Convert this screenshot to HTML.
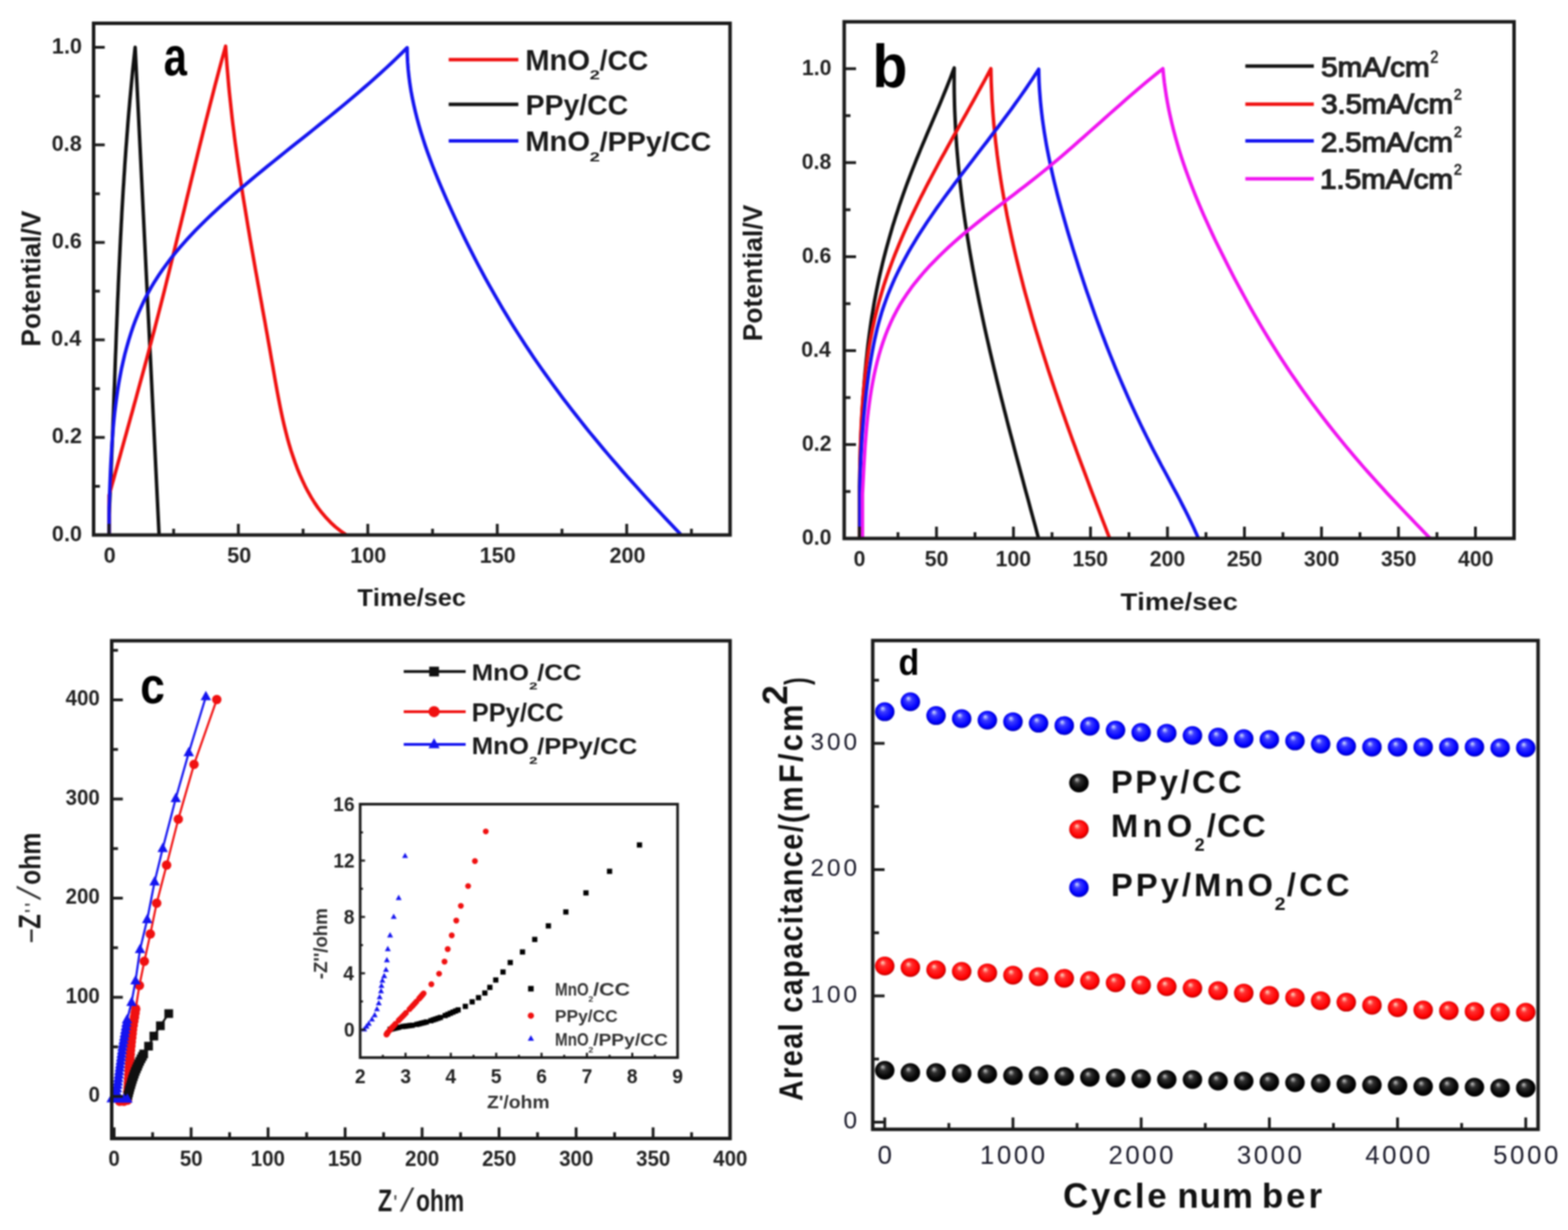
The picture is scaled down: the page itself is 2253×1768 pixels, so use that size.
<!DOCTYPE html>
<html><head><meta charset="utf-8"><title>Figure</title>
<style>
html,body{margin:0;padding:0;background:#fff;}
svg{display:block;filter:blur(0.8px);}
text{font-family:"Liberation Sans",Arial,sans-serif;font-kerning:none;}
</style></head><body>
<svg xmlns="http://www.w3.org/2000/svg" width="2253" height="1768" viewBox="0 0 2253 1768">
<defs>
<radialGradient id="gB" cx="0.5" cy="0.5" r="0.55" fx="0.38" fy="0.3">
<stop offset="0" stop-color="#d8e4ff"/><stop offset="0.3" stop-color="#3c3cff"/><stop offset="0.75" stop-color="#0000ff"/><stop offset="1" stop-color="#00009a"/></radialGradient>
<radialGradient id="gR" cx="0.5" cy="0.5" r="0.55" fx="0.38" fy="0.3">
<stop offset="0" stop-color="#ffe0c8"/><stop offset="0.3" stop-color="#ff3030"/><stop offset="0.75" stop-color="#ff0000"/><stop offset="1" stop-color="#a00000"/></radialGradient>
<radialGradient id="gK" cx="0.5" cy="0.5" r="0.55" fx="0.38" fy="0.3">
<stop offset="0" stop-color="#c8c8c8"/><stop offset="0.3" stop-color="#303030"/><stop offset="0.7" stop-color="#050505"/><stop offset="1" stop-color="#000"/></radialGradient>
</defs>
<rect width="100%" height="100%" fill="#fff"/>
<path d="M156.8,769.0 L156.8,740.0 L157.2,731.5 L157.6,723.0 L158.0,714.5 L158.4,706.0 L158.8,697.4 L159.1,688.9 L159.5,680.4 L159.8,671.9 L160.2,663.4 L160.5,654.9 L160.9,646.4 L161.2,637.8 L161.6,629.3 L161.9,620.8 L162.2,612.3 L162.5,603.8 L162.9,595.3 L163.2,586.7 L163.5,578.2 L163.8,569.7 L164.1,561.2 L164.5,552.7 L164.8,544.1 L165.1,535.6 L165.4,527.1 L165.7,518.6 L166.0,510.1 L166.4,501.6 L166.7,493.0 L167.0,484.5 L167.3,476.0 L167.7,467.5 L168.0,459.0 L168.4,450.4 L168.7,441.9 L169.0,433.4 L169.4,424.9 L169.8,416.4 L170.1,407.9 L170.5,399.3 L170.9,390.8 L171.3,382.3 L171.7,373.8 L172.1,365.3 L172.5,356.8 L172.9,348.3 L173.3,339.8 L173.8,331.2 L174.2,322.7 L174.7,314.2 L175.1,305.7 L175.6,297.2 L176.1,288.7 L176.6,280.2 L177.1,271.7 L177.7,263.2 L178.2,254.7 L178.8,246.2 L179.3,237.7 L179.9,229.2 L180.5,220.7 L181.1,212.2 L181.8,203.7 L182.4,195.2 L183.1,186.7 L183.7,178.2 L184.4,169.7 L185.1,161.2 L185.9,152.7 L186.6,144.2 L187.4,135.7 L188.2,127.3 L189.0,118.8 L189.8,110.3 L190.6,101.8 L191.5,93.3 L192.4,84.9 L193.3,76.4 L194.2,67.9 L228.6,769.0" fill="none" stroke="#101010" stroke-width="5.0" stroke-linejoin="round"/>
<path d="M156.8,769.0 L156.8,712.0 L159.0,703.9 L161.2,695.8 L163.5,687.7 L165.7,679.5 L168.0,671.4 L170.2,663.3 L172.5,655.2 L174.7,647.1 L177.0,638.9 L179.2,630.8 L181.5,622.7 L183.7,614.6 L186.0,606.4 L188.2,598.3 L190.5,590.2 L192.7,582.0 L195.0,573.9 L197.2,565.7 L199.4,557.6 L201.6,549.5 L203.9,541.3 L206.1,533.2 L208.3,525.0 L210.5,516.9 L212.7,508.7 L214.8,500.5 L217.0,492.4 L219.1,484.2 L221.3,476.0 L223.4,467.9 L225.5,459.7 L227.6,451.5 L229.7,443.3 L231.8,435.1 L233.9,426.9 L236.0,418.7 L238.0,410.5 L240.0,402.3 L242.1,394.1 L244.1,385.9 L246.1,377.7 L248.1,369.5 L250.1,361.3 L252.1,353.1 L254.1,344.9 L256.1,336.7 L258.1,328.5 L260.1,320.3 L262.1,312.0 L264.1,303.8 L266.1,295.6 L268.0,287.4 L270.0,279.2 L272.0,271.0 L274.0,262.7 L276.0,254.5 L278.0,246.3 L280.0,238.1 L282.0,229.9 L284.0,221.7 L286.0,213.5 L288.0,205.3 L290.1,197.1 L292.1,188.9 L294.2,180.7 L296.2,172.5 L298.3,164.3 L300.4,156.1 L302.5,147.9 L304.6,139.8 L306.7,131.6 L308.8,123.4 L311.0,115.2 L313.1,107.1 L315.3,98.9 L317.5,90.7 L319.7,82.6 L322.0,74.4 L324.2,66.3 L324.8,75.8 L325.5,85.2 L326.2,94.6 L327.0,104.0 L327.8,113.4 L328.6,122.7 L329.5,132.1 L330.5,141.4 L331.5,150.7 L332.5,160.0 L333.5,169.2 L334.6,178.5 L335.8,187.7 L336.9,197.0 L338.1,206.2 L339.4,215.4 L340.6,224.6 L341.9,233.8 L343.3,243.0 L344.6,252.1 L346.0,261.3 L347.4,270.5 L348.8,279.6 L350.3,288.8 L351.8,297.9 L353.3,307.0 L354.8,316.2 L356.3,325.3 L357.9,334.5 L359.4,343.6 L361.0,352.8 L362.6,361.9 L364.2,371.0 L365.8,380.2 L367.4,389.4 L369.1,398.5 L370.7,407.7 L372.4,416.9 L374.0,426.1 L375.7,435.3 L377.3,444.5 L379.0,453.7 L380.7,462.9 L382.3,472.2 L384.0,481.4 L385.6,490.7 L387.3,500.0 L388.9,509.3 L390.5,518.6 L392.2,528.0 L393.8,537.3 L395.4,546.7 L397.1,556.0 L398.8,565.4 L400.6,574.7 L402.4,584.0 L404.3,593.3 L406.3,602.5 L408.4,611.6 L410.7,620.8 L413.0,629.8 L415.5,638.8 L418.2,647.7 L421.1,656.4 L424.1,665.1 L427.3,673.7 L430.8,682.2 L434.5,690.5 L438.4,698.8 L442.6,706.8 L447.1,714.8 L451.9,722.5 L457.0,730.0 L462.6,737.2 L468.5,744.1 L474.9,750.8 L481.7,757.1 L489.1,763.0 L497.0,768.5" fill="none" stroke="#f01010" stroke-width="5.0" stroke-linejoin="round"/>
<path d="M156.8,769.0 L156.8,730.0 L157.2,719.7 L157.5,709.4 L157.9,699.0 L158.3,688.5 L158.7,678.0 L159.2,667.4 L159.8,656.8 L160.4,646.2 L161.1,635.5 L161.9,624.9 L162.7,614.2 L163.7,603.6 L164.8,593.0 L166.1,582.4 L167.5,571.8 L169.0,561.2 L170.7,550.7 L172.6,540.3 L174.6,529.9 L176.9,519.6 L179.3,509.4 L182.0,499.3 L184.9,489.2 L188.0,479.3 L191.3,469.4 L194.9,459.7 L198.8,450.1 L203.0,440.7 L207.4,431.4 L212.1,422.2 L217.1,413.2 L222.5,404.3 L228.1,395.6 L233.9,387.1 L240.1,378.6 L246.4,370.3 L253.0,362.2 L259.8,354.2 L266.7,346.3 L273.9,338.5 L281.2,330.8 L288.7,323.2 L296.3,315.7 L304.0,308.4 L311.8,301.1 L319.7,293.9 L327.7,286.8 L335.7,279.7 L343.8,272.7 L352.0,265.8 L360.1,259.0 L368.3,252.2 L376.4,245.5 L384.6,238.8 L392.9,232.1 L401.1,225.5 L409.3,218.9 L417.5,212.3 L425.7,205.8 L434.0,199.2 L442.2,192.7 L450.4,186.1 L458.6,179.5 L466.7,173.0 L474.9,166.4 L483.0,159.8 L491.1,153.1 L499.2,146.4 L507.2,139.7 L515.2,132.9 L523.1,126.0 L531.1,119.1 L538.9,112.2 L546.7,105.1 L554.5,98.0 L562.2,90.8 L569.9,83.5 L577.5,76.1 L585.0,68.6 L585.2,79.0 L585.7,89.4 L586.5,99.7 L587.6,110.0 L588.9,120.2 L590.5,130.4 L592.4,140.5 L594.5,150.5 L596.8,160.5 L599.3,170.5 L602.0,180.4 L604.9,190.3 L608.0,200.1 L611.2,209.9 L614.6,219.6 L618.2,229.3 L621.8,239.0 L625.6,248.6 L629.5,258.2 L633.5,267.8 L637.6,277.3 L641.8,286.9 L646.0,296.3 L650.3,305.8 L654.7,315.2 L659.1,324.6 L663.6,334.0 L668.1,343.3 L672.7,352.6 L677.4,361.9 L682.1,371.2 L686.9,380.4 L691.8,389.5 L696.7,398.7 L701.7,407.8 L706.8,416.8 L711.9,425.8 L717.1,434.8 L722.3,443.7 L727.7,452.6 L733.0,461.5 L738.5,470.3 L744.0,479.0 L749.6,487.7 L755.2,496.4 L761.0,505.0 L766.7,513.6 L772.6,522.1 L778.5,530.6 L784.5,539.0 L790.5,547.4 L796.6,555.8 L802.7,564.1 L808.9,572.4 L815.1,580.6 L821.4,588.8 L827.8,596.9 L834.2,605.0 L840.6,613.1 L847.1,621.2 L853.7,629.2 L860.3,637.1 L866.9,645.1 L873.6,653.0 L880.3,660.8 L887.1,668.7 L893.8,676.5 L900.7,684.3 L907.6,692.0 L914.5,699.7 L921.4,707.4 L928.4,715.1 L935.4,722.7 L942.4,730.3 L949.5,737.9 L956.6,745.5 L963.7,753.0 L970.8,760.5 L978.0,768.0" fill="none" stroke="#1414f0" stroke-width="5.0" stroke-linejoin="round"/>
<rect x="134.5" y="33.5" width="914.5" height="735.5" fill="none" stroke="#1a1a1a" stroke-width="5.0"/>
<path d="M156.5,769.0V753.0M342.5,769.0V753.0M528.5,769.0V753.0M714.5,769.0V753.0M900.5,769.0V753.0" stroke="#1a1a1a" stroke-width="4.0"/>
<path d="M249.5,769.0V760.0M435.5,769.0V760.0M621.5,769.0V760.0M807.5,769.0V760.0M993.5,769.0V760.0" stroke="#1a1a1a" stroke-width="4.0"/>
<path d="M134.5,769.0H150.5M134.5,628.8H150.5M134.5,488.6H150.5M134.5,348.5H150.5M134.5,208.3H150.5M134.5,68.1H150.5" stroke="#1a1a1a" stroke-width="4.0"/>
<path d="M134.5,698.9H143.5M134.5,558.7H143.5M134.5,418.6H143.5M134.5,278.4H143.5M134.5,138.2H143.5" stroke="#1a1a1a" stroke-width="4.0"/>
<text transform="translate(74.62,777.67) scale(0.9700,1)" font-size="32.00" font-weight="700" fill="#222">0.0</text>
<text transform="translate(74.59,637.49) scale(0.9700,1)" font-size="32.00" font-weight="700" fill="#222">0.2</text>
<text transform="translate(73.52,497.31) scale(0.9700,1)" font-size="32.00" font-weight="700" fill="#222">0.4</text>
<text transform="translate(74.47,357.13) scale(0.9700,1)" font-size="32.00" font-weight="700" fill="#222">0.6</text>
<text transform="translate(74.31,216.95) scale(0.9700,1)" font-size="32.00" font-weight="700" fill="#222">0.8</text>
<text transform="translate(74.62,76.77) scale(0.9700,1)" font-size="32.00" font-weight="700" fill="#222">1.0</text>
<text transform="translate(148.89,808.50) scale(0.9700,1)" font-size="32.00" font-weight="700" fill="#222">0</text>
<text transform="translate(326.40,808.50) scale(0.9700,1)" font-size="32.00" font-weight="700" fill="#222">50</text>
<text transform="translate(503.26,808.50) scale(0.9700,1)" font-size="32.00" font-weight="700" fill="#222">100</text>
<text transform="translate(689.26,808.50) scale(0.9700,1)" font-size="32.00" font-weight="700" fill="#222">150</text>
<text transform="translate(875.70,808.50) scale(0.9700,1)" font-size="32.00" font-weight="700" fill="#222">200</text>
<text transform="translate(513.59,871.00) scale(1.0162,1)" font-size="35.88" font-weight="700" fill="#1a1a1a">Time/sec</text>
<text transform="translate(58.00,498.13) rotate(-90) scale(0.9785,1)" font-size="38.64" font-weight="700" fill="#1a1a1a">Potential/V</text>
<text transform="translate(235.24,107.50) scale(0.7781,1)" font-size="77.13" font-weight="700" fill="#000">a</text>
<path d="M644.7,85.8H744.8" stroke="#f01010" stroke-width="5"/>
<path d="M644.7,150.1H744.8" stroke="#101010" stroke-width="5"/>
<path d="M644.7,202.5H744.8" stroke="#1414f0" stroke-width="5"/>
<text transform="translate(754.70,100.50) scale(0.9914,1)" font-size="42.25" font-weight="700" fill="#1a1a1a">MnO</text>
<text transform="translate(847.28,114.30) scale(1.5093,1)" font-size="17.62" font-weight="700" fill="#1a1a1a">2</text>
<text transform="translate(861.60,100.50) scale(0.9985,1)" font-size="40.71" font-weight="700" fill="#1a1a1a">/CC</text>
<text transform="translate(755.27,164.80) scale(1.0263,1)" font-size="39.75" font-weight="700" fill="#1a1a1a">PPy/CC</text>
<text transform="translate(754.70,217.20) scale(1.0372,1)" font-size="40.39" font-weight="700" fill="#1a1a1a">MnO</text>
<text transform="translate(847.28,231.50) scale(1.4851,1)" font-size="17.90" font-weight="700" fill="#1a1a1a">2</text>
<text transform="translate(861.60,217.20) scale(1.0604,1)" font-size="38.92" font-weight="700" fill="#1a1a1a">/PPy/CC</text>
<path d="M1235.0,774.0 L1235.0,700.0 L1235.1,692.1 L1235.3,684.3 L1235.4,676.4 L1235.6,668.5 L1235.8,660.6 L1236.1,652.7 L1236.3,644.9 L1236.6,637.0 L1237.0,629.1 L1237.3,621.2 L1237.7,613.3 L1238.1,605.4 L1238.5,597.5 L1239.0,589.6 L1239.5,581.7 L1240.0,573.9 L1240.6,566.0 L1241.2,558.1 L1241.8,550.2 L1242.4,542.3 L1243.1,534.4 L1243.9,526.6 L1244.6,518.7 L1245.5,510.8 L1246.3,503.0 L1247.2,495.1 L1248.2,487.3 L1249.2,479.5 L1250.3,471.6 L1251.4,463.8 L1252.6,456.0 L1253.9,448.3 L1255.2,440.5 L1256.5,432.7 L1258.0,425.0 L1259.5,417.2 L1261.1,409.5 L1262.7,401.8 L1264.4,394.1 L1266.2,386.5 L1268.0,378.8 L1269.9,371.2 L1271.9,363.5 L1273.9,355.9 L1276.0,348.3 L1278.1,340.8 L1280.3,333.2 L1282.5,325.6 L1284.9,318.1 L1287.2,310.6 L1289.7,303.1 L1292.1,295.6 L1294.7,288.1 L1297.3,280.7 L1299.9,273.3 L1302.6,265.9 L1305.4,258.5 L1308.2,251.1 L1311.1,243.7 L1314.0,236.4 L1316.9,229.0 L1319.9,221.7 L1322.9,214.4 L1326.0,207.1 L1329.1,199.8 L1332.1,192.5 L1335.2,185.3 L1338.3,178.0 L1341.4,170.7 L1344.5,163.4 L1347.6,156.2 L1350.7,148.9 L1353.7,141.6 L1356.7,134.3 L1359.7,127.0 L1362.6,119.6 L1365.5,112.3 L1368.3,105.0 L1371.1,97.6 L1371.0,106.4 L1371.0,115.1 L1371.0,123.9 L1371.1,132.6 L1371.3,141.4 L1371.5,150.1 L1371.8,158.8 L1372.2,167.5 L1372.6,176.3 L1373.0,185.0 L1373.5,193.7 L1374.1,202.4 L1374.7,211.1 L1375.4,219.8 L1376.2,228.4 L1376.9,237.1 L1377.8,245.8 L1378.7,254.5 L1379.6,263.1 L1380.6,271.8 L1381.6,280.4 L1382.7,289.1 L1383.8,297.7 L1385.0,306.3 L1386.2,315.0 L1387.5,323.6 L1388.8,332.2 L1390.1,340.8 L1391.5,349.4 L1392.9,358.1 L1394.4,366.7 L1395.9,375.2 L1397.4,383.8 L1399.0,392.4 L1400.6,401.0 L1402.2,409.6 L1403.9,418.1 L1405.6,426.7 L1407.3,435.3 L1409.1,443.8 L1410.9,452.4 L1412.7,460.9 L1414.5,469.5 L1416.4,478.0 L1418.3,486.5 L1420.3,495.1 L1422.2,503.6 L1424.2,512.1 L1426.2,520.6 L1428.2,529.1 L1430.3,537.6 L1432.3,546.1 L1434.4,554.6 L1436.5,563.1 L1438.6,571.6 L1440.8,580.1 L1442.9,588.6 L1445.1,597.0 L1447.2,605.5 L1449.4,614.0 L1451.6,622.4 L1453.9,630.9 L1456.1,639.3 L1458.3,647.8 L1460.5,656.2 L1462.8,664.7 L1465.1,673.1 L1467.3,681.5 L1469.6,689.9 L1471.8,698.4 L1474.1,706.8 L1476.4,715.2 L1478.7,723.6 L1480.9,732.0 L1483.2,740.4 L1485.5,748.8 L1487.8,757.2 L1490.0,765.6 L1492.3,774.0" fill="none" stroke="#101010" stroke-width="5.0" stroke-linejoin="round"/>
<path d="M1235.3,774.0 L1235.3,700.0 L1235.4,692.0 L1235.4,683.9 L1235.5,675.8 L1235.7,667.7 L1235.8,659.6 L1236.0,651.5 L1236.2,643.4 L1236.5,635.3 L1236.8,627.1 L1237.1,619.0 L1237.5,610.8 L1237.9,602.7 L1238.4,594.6 L1238.9,586.4 L1239.5,578.3 L1240.1,570.1 L1240.8,562.0 L1241.6,553.9 L1242.4,545.8 L1243.3,537.7 L1244.3,529.6 L1245.4,521.5 L1246.5,513.5 L1247.7,505.4 L1249.0,497.4 L1250.4,489.4 L1251.9,481.5 L1253.5,473.5 L1255.2,465.6 L1256.9,457.7 L1258.8,449.8 L1260.8,442.0 L1262.9,434.2 L1265.1,426.5 L1267.4,418.7 L1269.7,411.0 L1272.2,403.4 L1274.8,395.7 L1277.5,388.1 L1280.3,380.5 L1283.1,373.0 L1286.0,365.5 L1289.1,358.0 L1292.1,350.5 L1295.3,343.0 L1298.5,335.6 L1301.8,328.2 L1305.2,320.8 L1308.6,313.5 L1312.1,306.1 L1315.6,298.8 L1319.2,291.5 L1322.8,284.2 L1326.5,277.0 L1330.2,269.7 L1333.9,262.5 L1337.7,255.3 L1341.5,248.1 L1345.4,240.9 L1349.2,233.7 L1353.1,226.5 L1357.1,219.4 L1361.0,212.2 L1365.0,205.1 L1368.9,198.0 L1372.9,190.9 L1376.9,183.7 L1380.8,176.6 L1384.8,169.5 L1388.8,162.5 L1392.7,155.4 L1396.7,148.3 L1400.6,141.2 L1404.5,134.1 L1408.4,127.0 L1412.3,120.0 L1416.2,112.9 L1420.0,105.8 L1423.8,98.7 L1424.0,107.6 L1424.2,116.5 L1424.6,125.4 L1425.0,134.2 L1425.4,143.1 L1426.0,151.9 L1426.6,160.8 L1427.3,169.6 L1428.0,178.4 L1428.9,187.3 L1429.8,196.1 L1430.7,204.9 L1431.8,213.6 L1432.8,222.4 L1434.0,231.2 L1435.2,240.0 L1436.5,248.7 L1437.8,257.4 L1439.2,266.2 L1440.7,274.9 L1442.2,283.6 L1443.7,292.3 L1445.4,301.0 L1447.0,309.7 L1448.8,318.4 L1450.6,327.1 L1452.4,335.7 L1454.3,344.4 L1456.2,353.0 L1458.2,361.7 L1460.2,370.3 L1462.3,378.9 L1464.4,387.5 L1466.6,396.1 L1468.8,404.7 L1471.0,413.3 L1473.3,421.9 L1475.7,430.4 L1478.1,439.0 L1480.5,447.5 L1482.9,456.1 L1485.4,464.6 L1487.9,473.1 L1490.5,481.6 L1493.1,490.1 L1495.7,498.6 L1498.4,507.1 L1501.1,515.6 L1503.8,524.0 L1506.5,532.5 L1509.3,540.9 L1512.1,549.4 L1514.9,557.8 L1517.8,566.2 L1520.7,574.7 L1523.6,583.1 L1526.5,591.5 L1529.5,599.8 L1532.4,608.2 L1535.4,616.6 L1538.4,625.0 L1541.4,633.3 L1544.5,641.7 L1547.5,650.0 L1550.6,658.3 L1553.7,666.6 L1556.8,674.9 L1559.9,683.2 L1563.0,691.5 L1566.1,699.8 L1569.2,708.1 L1572.4,716.4 L1575.5,724.6 L1578.7,732.9 L1581.8,741.1 L1585.0,749.4 L1588.2,757.6 L1591.3,765.8 L1594.5,774.0" fill="none" stroke="#f01010" stroke-width="5.0" stroke-linejoin="round"/>
<path d="M1235.6,774.0 L1235.6,700.0 L1235.7,691.5 L1235.9,683.1 L1236.2,674.6 L1236.5,666.1 L1236.9,657.7 L1237.3,649.2 L1237.8,640.7 L1238.3,632.3 L1238.9,623.8 L1239.6,615.3 L1240.3,606.8 L1241.0,598.3 L1241.9,589.9 L1242.7,581.4 L1243.7,572.9 L1244.6,564.4 L1245.7,555.9 L1246.8,547.4 L1247.9,538.9 L1249.1,530.5 L1250.5,522.0 L1251.9,513.6 L1253.4,505.2 L1255.0,496.8 L1256.7,488.4 L1258.6,480.1 L1260.5,471.9 L1262.7,463.7 L1265.0,455.5 L1267.4,447.4 L1270.1,439.4 L1272.9,431.5 L1275.8,423.6 L1279.0,415.8 L1282.3,408.0 L1285.7,400.3 L1289.3,392.7 L1293.1,385.1 L1297.0,377.6 L1301.0,370.2 L1305.1,362.8 L1309.3,355.5 L1313.7,348.2 L1318.1,340.9 L1322.7,333.7 L1327.3,326.6 L1332.0,319.4 L1336.8,312.4 L1341.6,305.3 L1346.5,298.3 L1351.5,291.4 L1356.5,284.4 L1361.6,277.5 L1366.7,270.7 L1371.8,263.8 L1377.0,257.0 L1382.1,250.2 L1387.3,243.5 L1392.5,236.7 L1397.7,230.0 L1402.8,223.2 L1408.0,216.5 L1413.2,209.8 L1418.4,203.1 L1423.5,196.3 L1428.6,189.6 L1433.8,182.9 L1438.9,176.1 L1443.9,169.3 L1449.0,162.5 L1454.0,155.7 L1458.9,148.8 L1463.9,141.9 L1468.8,134.9 L1473.6,128.0 L1478.4,120.9 L1483.2,113.8 L1487.9,106.7 L1492.5,99.5 L1492.7,108.6 L1493.0,117.7 L1493.5,126.8 L1494.2,135.9 L1494.9,144.9 L1495.8,154.0 L1496.8,163.0 L1497.9,172.0 L1499.2,181.0 L1500.5,189.9 L1502.0,198.9 L1503.5,207.8 L1505.2,216.8 L1507.0,225.7 L1508.8,234.6 L1510.7,243.4 L1512.7,252.3 L1514.8,261.2 L1517.0,270.0 L1519.2,278.8 L1521.5,287.6 L1523.9,296.4 L1526.3,305.2 L1528.8,314.0 L1531.3,322.7 L1533.8,331.5 L1536.4,340.2 L1539.1,348.9 L1541.7,357.6 L1544.4,366.3 L1547.2,375.0 L1549.9,383.7 L1552.7,392.3 L1555.6,401.0 L1558.4,409.6 L1561.3,418.2 L1564.3,426.8 L1567.3,435.4 L1570.3,443.9 L1573.3,452.5 L1576.4,461.0 L1579.6,469.5 L1582.7,478.0 L1586.0,486.5 L1589.2,495.0 L1592.5,503.4 L1595.9,511.9 L1599.3,520.3 L1602.7,528.7 L1606.2,537.1 L1609.7,545.4 L1613.3,553.8 L1616.9,562.1 L1620.6,570.4 L1624.3,578.7 L1628.1,587.0 L1631.9,595.2 L1635.8,603.5 L1639.7,611.7 L1643.7,619.9 L1647.7,628.0 L1651.8,636.2 L1655.9,644.3 L1660.1,652.4 L1664.4,660.5 L1668.6,668.6 L1673.0,676.6 L1677.3,684.7 L1681.6,692.7 L1685.9,700.8 L1690.2,708.8 L1694.5,716.9 L1698.6,725.0 L1702.8,733.1 L1706.8,741.2 L1710.8,749.3 L1714.7,757.5 L1718.4,765.7 L1722.0,774.0" fill="none" stroke="#1414f0" stroke-width="5.0" stroke-linejoin="round"/>
<path d="M1239.2,774.0 L1239.2,710.0 L1239.7,700.3 L1240.2,690.6 L1240.7,680.7 L1241.2,670.8 L1241.8,660.9 L1242.4,650.8 L1243.0,640.8 L1243.8,630.7 L1244.6,620.6 L1245.5,610.5 L1246.5,600.3 L1247.7,590.2 L1249.0,580.1 L1250.4,570.1 L1252.0,560.0 L1253.8,550.1 L1255.7,540.2 L1257.9,530.3 L1260.2,520.6 L1262.8,510.9 L1265.6,501.4 L1268.7,491.9 L1272.0,482.6 L1275.6,473.4 L1279.5,464.4 L1283.7,455.5 L1288.2,446.8 L1293.0,438.2 L1298.2,429.9 L1303.7,421.7 L1309.4,413.6 L1315.4,405.8 L1321.7,398.1 L1328.2,390.5 L1334.9,383.1 L1341.8,375.9 L1348.9,368.8 L1356.1,361.8 L1363.4,354.9 L1370.9,348.2 L1378.5,341.5 L1386.1,335.0 L1393.9,328.6 L1401.7,322.3 L1409.5,316.0 L1417.4,309.8 L1425.4,303.6 L1433.3,297.5 L1441.3,291.4 L1449.3,285.3 L1457.3,279.2 L1465.2,273.1 L1473.2,267.0 L1481.1,260.8 L1488.9,254.6 L1496.7,248.4 L1504.5,242.1 L1512.1,235.7 L1519.8,229.3 L1527.4,222.8 L1534.9,216.3 L1542.4,209.8 L1549.9,203.2 L1557.4,196.6 L1564.8,190.0 L1572.3,183.4 L1579.7,176.8 L1587.2,170.1 L1594.6,163.5 L1602.1,156.9 L1609.6,150.3 L1617.1,143.7 L1624.6,137.2 L1632.2,130.6 L1639.8,124.2 L1647.5,117.7 L1655.2,111.3 L1663.0,105.0 L1670.9,98.7 L1671.9,108.7 L1673.0,118.6 L1674.4,128.5 L1675.9,138.3 L1677.6,148.1 L1679.5,157.9 L1681.6,167.6 L1683.8,177.3 L1686.2,186.9 L1688.8,196.6 L1691.5,206.1 L1694.3,215.7 L1697.3,225.2 L1700.4,234.6 L1703.7,244.1 L1707.1,253.5 L1710.6,262.8 L1714.2,272.2 L1717.9,281.5 L1721.7,290.7 L1725.6,300.0 L1729.6,309.2 L1733.7,318.3 L1737.9,327.5 L1742.1,336.6 L1746.4,345.7 L1750.8,354.7 L1755.3,363.7 L1759.8,372.7 L1764.3,381.7 L1768.9,390.6 L1773.5,399.6 L1778.2,408.4 L1783.0,417.3 L1787.8,426.1 L1792.6,434.9 L1797.5,443.7 L1802.5,452.4 L1807.5,461.1 L1812.6,469.7 L1817.7,478.3 L1822.9,486.9 L1828.2,495.4 L1833.5,503.8 L1838.9,512.3 L1844.3,520.7 L1849.8,529.0 L1855.4,537.3 L1861.1,545.5 L1866.8,553.7 L1872.5,561.9 L1878.4,570.0 L1884.2,578.1 L1890.2,586.1 L1896.2,594.1 L1902.3,602.0 L1908.4,609.9 L1914.6,617.7 L1920.8,625.5 L1927.1,633.3 L1933.4,641.0 L1939.8,648.7 L1946.3,656.3 L1952.8,663.9 L1959.3,671.5 L1966.0,679.0 L1972.6,686.4 L1979.3,693.9 L1986.1,701.3 L1992.8,708.7 L1999.6,716.0 L2006.5,723.3 L2013.4,730.6 L2020.3,737.9 L2027.2,745.1 L2034.1,752.4 L2041.1,759.6 L2048.0,766.8 L2055.0,774.0" fill="none" stroke="#f014f0" stroke-width="5.0" stroke-linejoin="round"/>
<rect x="1213.0" y="31.3" width="962.5" height="742.7" fill="none" stroke="#1a1a1a" stroke-width="5.0"/>
<path d="M1235.0,774.0V757.0M1345.6,774.0V757.0M1456.2,774.0V757.0M1566.9,774.0V757.0M1677.5,774.0V757.0M1788.1,774.0V757.0M1898.8,774.0V757.0M2009.4,774.0V757.0M2120.0,774.0V757.0" stroke="#1a1a1a" stroke-width="4.0"/>
<path d="M1290.3,774.0V765.0M1400.9,774.0V765.0M1511.6,774.0V765.0M1622.2,774.0V765.0M1732.8,774.0V765.0M1843.4,774.0V765.0M1954.1,774.0V765.0M2064.7,774.0V765.0" stroke="#1a1a1a" stroke-width="4.0"/>
<path d="M1213.0,774.0H1230.0M1213.0,639.0H1230.0M1213.0,503.9H1230.0M1213.0,368.9H1230.0M1213.0,233.8H1230.0M1213.0,98.8H1230.0" stroke="#1a1a1a" stroke-width="4.0"/>
<path d="M1213.0,706.5H1222.0M1213.0,571.4H1222.0M1213.0,436.4H1222.0M1213.0,301.4H1222.0M1213.0,166.3H1222.0" stroke="#1a1a1a" stroke-width="4.0"/>
<text transform="translate(1152.28,783.49) scale(0.9700,1)" font-size="31.50" font-weight="700" fill="#222">0.0</text>
<text transform="translate(1152.25,648.45) scale(0.9700,1)" font-size="31.50" font-weight="700" fill="#222">0.2</text>
<text transform="translate(1151.19,513.41) scale(0.9700,1)" font-size="31.50" font-weight="700" fill="#222">0.4</text>
<text transform="translate(1152.13,378.37) scale(0.9700,1)" font-size="31.50" font-weight="700" fill="#222">0.6</text>
<text transform="translate(1151.96,243.33) scale(0.9700,1)" font-size="31.50" font-weight="700" fill="#222">0.8</text>
<text transform="translate(1152.28,108.29) scale(0.9700,1)" font-size="31.50" font-weight="700" fill="#222">1.0</text>
<text transform="translate(1226.53,813.50) scale(0.9700,1)" font-size="31.50" font-weight="700" fill="#222">0</text>
<text transform="translate(1328.79,813.50) scale(0.9700,1)" font-size="31.50" font-weight="700" fill="#222">50</text>
<text transform="translate(1430.42,813.50) scale(0.9700,1)" font-size="31.50" font-weight="700" fill="#222">100</text>
<text transform="translate(1541.05,813.50) scale(0.9700,1)" font-size="31.50" font-weight="700" fill="#222">150</text>
<text transform="translate(1652.11,813.50) scale(0.9700,1)" font-size="31.50" font-weight="700" fill="#222">200</text>
<text transform="translate(1762.73,813.50) scale(0.9700,1)" font-size="31.50" font-weight="700" fill="#222">250</text>
<text transform="translate(1873.54,813.50) scale(0.9700,1)" font-size="31.50" font-weight="700" fill="#222">300</text>
<text transform="translate(1984.16,813.50) scale(0.9700,1)" font-size="31.50" font-weight="700" fill="#222">350</text>
<text transform="translate(2094.91,813.50) scale(0.9700,1)" font-size="31.50" font-weight="700" fill="#222">400</text>
<text transform="translate(1610.06,877.30) scale(1.1063,1)" font-size="35.61" font-weight="700" fill="#1a1a1a">Time/sec</text>
<text transform="translate(1094.50,490.54) rotate(-90) scale(0.9658,1)" font-size="39.33" font-weight="700" fill="#1a1a1a">Potential/V</text>
<text transform="translate(1253.57,125.00) scale(0.9548,1)" font-size="86.25" font-weight="700" fill="#000">b</text>
<path d="M1789.4,95.1H1887.8" stroke="#101010" stroke-width="5"/>
<path d="M1789.4,149.8H1887.8" stroke="#f01010" stroke-width="5"/>
<path d="M1789.4,202.4H1887.8" stroke="#1414f0" stroke-width="5"/>
<path d="M1789.4,257.1H1887.8" stroke="#f014f0" stroke-width="5"/>
<text transform="translate(1898.30,109.50) scale(1.0817,1)" font-size="39.33" font-weight="400" fill="#222" stroke="#222" stroke-width="1.8">5mA/cm</text>
<text transform="translate(2055.36,89.70) scale(0.8376,1)" font-size="24.63" font-weight="400" fill="#222" stroke="#222" stroke-width="1.0">2</text>
<text transform="translate(1898.40,163.00) scale(1.1086,1)" font-size="37.95" font-weight="400" fill="#222" stroke="#222" stroke-width="1.8">3.5mA/cm</text>
<text transform="translate(2088.96,142.80) scale(0.9235,1)" font-size="22.34" font-weight="400" fill="#222" stroke="#222" stroke-width="1.0">2</text>
<text transform="translate(1897.88,217.50) scale(1.1117,1)" font-size="37.95" font-weight="400" fill="#222" stroke="#222" stroke-width="1.8">2.5mA/cm</text>
<text transform="translate(2088.96,197.00) scale(0.9295,1)" font-size="22.20" font-weight="400" fill="#222" stroke="#222" stroke-width="1.0">2</text>
<text transform="translate(1896.77,270.50) scale(1.1183,1)" font-size="37.95" font-weight="400" fill="#222" stroke="#222" stroke-width="1.8">1.5mA/cm</text>
<text transform="translate(2088.96,250.50) scale(0.9295,1)" font-size="22.20" font-weight="400" fill="#222" stroke="#222" stroke-width="1.0">2</text>
<path d="M311.5,1005.5 L278.8,1098.8 L256.2,1177.5 L239.4,1243.5 L225.1,1298.3 L216.0,1342.5 L207.4,1381.8 L200.3,1416.5 L195.0,1450.0 L194.1,1455.9 L193.2,1461.9 L192.3,1467.8 L191.4,1473.7 L190.5,1479.7 L189.9,1485.6 L189.3,1491.6 L188.7,1497.6 L188.1,1503.5 L187.5,1509.5 L187.1,1515.5 L186.7,1521.5 L186.3,1527.5 L185.9,1533.5 L185.5,1539.4 L185.2,1545.4 L184.8,1551.4 L184.5,1557.4 L184.1,1563.4 L183.7,1569.4 L183.4,1575.4 L183.0,1581.4 L172.0,1583.0 L178.0,1583.0" fill="none" stroke="#f01010" stroke-width="3.0" stroke-linejoin="round" stroke-linecap="butt"/>
<circle cx="311.5" cy="1005.5" r="6.8" fill="#f01010"/><circle cx="278.8" cy="1098.8" r="6.8" fill="#f01010"/><circle cx="256.2" cy="1177.5" r="6.8" fill="#f01010"/><circle cx="239.4" cy="1243.5" r="6.8" fill="#f01010"/><circle cx="225.1" cy="1298.3" r="6.8" fill="#f01010"/><circle cx="216.0" cy="1342.5" r="6.8" fill="#f01010"/><circle cx="207.4" cy="1381.8" r="6.8" fill="#f01010"/><circle cx="200.3" cy="1416.5" r="6.8" fill="#f01010"/><circle cx="195.0" cy="1450.0" r="6.8" fill="#f01010"/><circle cx="194.1" cy="1455.9" r="6.8" fill="#f01010"/><circle cx="193.2" cy="1461.9" r="6.8" fill="#f01010"/><circle cx="192.3" cy="1467.8" r="6.8" fill="#f01010"/><circle cx="191.4" cy="1473.7" r="6.8" fill="#f01010"/><circle cx="190.5" cy="1479.7" r="6.8" fill="#f01010"/><circle cx="189.9" cy="1485.6" r="6.8" fill="#f01010"/><circle cx="189.3" cy="1491.6" r="6.8" fill="#f01010"/><circle cx="188.7" cy="1497.6" r="6.8" fill="#f01010"/><circle cx="188.1" cy="1503.5" r="6.8" fill="#f01010"/><circle cx="187.5" cy="1509.5" r="6.8" fill="#f01010"/><circle cx="187.1" cy="1515.5" r="6.8" fill="#f01010"/><circle cx="186.7" cy="1521.5" r="6.8" fill="#f01010"/><circle cx="186.3" cy="1527.5" r="6.8" fill="#f01010"/><circle cx="185.9" cy="1533.5" r="6.8" fill="#f01010"/><circle cx="185.5" cy="1539.4" r="6.8" fill="#f01010"/><circle cx="185.2" cy="1545.4" r="6.8" fill="#f01010"/><circle cx="184.8" cy="1551.4" r="6.8" fill="#f01010"/><circle cx="184.5" cy="1557.4" r="6.8" fill="#f01010"/><circle cx="184.1" cy="1563.4" r="6.8" fill="#f01010"/><circle cx="183.7" cy="1569.4" r="6.8" fill="#f01010"/><circle cx="183.4" cy="1575.4" r="6.8" fill="#f01010"/><circle cx="183.0" cy="1581.4" r="6.8" fill="#f01010"/><circle cx="172.0" cy="1583.0" r="6.8" fill="#f01010"/><circle cx="178.0" cy="1583.0" r="6.8" fill="#f01010"/>
<path d="M242.4,1456.9 L230.4,1474.5 L221.0,1489.2 L213.4,1503.8 L206.4,1514.9 L204.5,1518.4 L202.7,1522.0 L200.8,1525.5 L199.1,1529.1 L197.5,1532.8 L195.9,1536.5 L194.4,1540.2 L193.0,1543.9 L191.7,1547.7 L190.4,1551.5 L189.1,1555.3 L188.0,1559.1 L186.9,1563.0 L185.8,1566.8 L184.8,1570.7 L183.9,1574.6" fill="none" stroke="#101010" stroke-width="3.0" stroke-linejoin="round" stroke-linecap="butt"/>
<rect x="236.2" y="1450.7" width="12.5" height="12.5" fill="#101010"/><rect x="224.2" y="1468.2" width="12.5" height="12.5" fill="#101010"/><rect x="214.8" y="1483.0" width="12.5" height="12.5" fill="#101010"/><rect x="207.2" y="1497.5" width="12.5" height="12.5" fill="#101010"/><rect x="200.2" y="1508.7" width="12.5" height="12.5" fill="#101010"/><rect x="198.3" y="1512.2" width="12.5" height="12.5" fill="#101010"/><rect x="196.4" y="1515.7" width="12.5" height="12.5" fill="#101010"/><rect x="194.5" y="1519.3" width="12.5" height="12.5" fill="#101010"/><rect x="192.8" y="1522.9" width="12.5" height="12.5" fill="#101010"/><rect x="191.3" y="1526.6" width="12.5" height="12.5" fill="#101010"/><rect x="189.7" y="1530.2" width="12.5" height="12.5" fill="#101010"/><rect x="188.1" y="1533.9" width="12.5" height="12.5" fill="#101010"/><rect x="186.7" y="1537.7" width="12.5" height="12.5" fill="#101010"/><rect x="185.4" y="1541.4" width="12.5" height="12.5" fill="#101010"/><rect x="184.1" y="1545.2" width="12.5" height="12.5" fill="#101010"/><rect x="182.9" y="1549.0" width="12.5" height="12.5" fill="#101010"/><rect x="181.8" y="1552.9" width="12.5" height="12.5" fill="#101010"/><rect x="180.6" y="1556.7" width="12.5" height="12.5" fill="#101010"/><rect x="179.6" y="1560.5" width="12.5" height="12.5" fill="#101010"/><rect x="178.6" y="1564.4" width="12.5" height="12.5" fill="#101010"/><rect x="177.6" y="1568.3" width="12.5" height="12.5" fill="#101010"/>
<path d="M295.8,1001.5 L271.2,1082.0 L252.5,1147.8 L233.8,1219.6 L222.1,1267.6 L211.5,1321.9 L201.2,1365.0 L194.7,1410.0 L189.0,1440.8 L182.5,1466.0 L181.7,1470.9 L180.9,1475.9 L180.0,1480.8 L179.2,1485.7 L178.4,1490.7 L177.6,1495.6 L176.7,1500.5 L175.9,1505.5 L175.3,1510.4 L174.6,1515.4 L174.0,1520.3 L173.3,1525.3 L172.6,1530.2 L172.0,1535.2 L171.3,1540.2 L170.7,1545.1 L170.0,1550.1 L169.4,1555.0 L168.7,1560.0 L168.0,1564.9 L167.3,1569.9 L165.7,1574.6 L160.5,1579.5 L166.0,1580.0 L172.0,1580.0 L178.0,1580.0 L183.0,1580.0" fill="none" stroke="#1414f0" stroke-width="3.0" stroke-linejoin="round" stroke-linecap="butt"/>
<path d="M295.8,993.1L303.3,1006.6L288.3,1006.6Z" fill="#1414f0"/><path d="M271.2,1073.6L278.7,1087.1L263.7,1087.1Z" fill="#1414f0"/><path d="M252.5,1139.4L260.0,1152.9L245.0,1152.9Z" fill="#1414f0"/><path d="M233.8,1211.2L241.3,1224.7L226.3,1224.7Z" fill="#1414f0"/><path d="M222.1,1259.2L229.6,1272.7L214.6,1272.7Z" fill="#1414f0"/><path d="M211.5,1313.5L219.0,1327.0L204.0,1327.0Z" fill="#1414f0"/><path d="M201.2,1356.6L208.7,1370.1L193.7,1370.1Z" fill="#1414f0"/><path d="M194.7,1401.6L202.2,1415.1L187.2,1415.1Z" fill="#1414f0"/><path d="M189.0,1432.4L196.5,1445.9L181.5,1445.9Z" fill="#1414f0"/><path d="M182.5,1457.6L190.0,1471.1L175.0,1471.1Z" fill="#1414f0"/><path d="M181.7,1462.6L189.2,1476.1L174.2,1476.1Z" fill="#1414f0"/><path d="M180.9,1467.5L188.4,1481.0L173.4,1481.0Z" fill="#1414f0"/><path d="M180.0,1472.4L187.5,1485.9L172.5,1485.9Z" fill="#1414f0"/><path d="M179.2,1477.4L186.7,1490.9L171.7,1490.9Z" fill="#1414f0"/><path d="M178.4,1482.3L185.9,1495.8L170.9,1495.8Z" fill="#1414f0"/><path d="M177.6,1487.2L185.1,1500.7L170.1,1500.7Z" fill="#1414f0"/><path d="M176.7,1492.2L184.2,1505.7L169.2,1505.7Z" fill="#1414f0"/><path d="M175.9,1497.1L183.4,1510.6L168.4,1510.6Z" fill="#1414f0"/><path d="M175.3,1502.0L182.8,1515.5L167.8,1515.5Z" fill="#1414f0"/><path d="M174.6,1507.0L182.1,1520.5L167.1,1520.5Z" fill="#1414f0"/><path d="M174.0,1512.0L181.5,1525.5L166.5,1525.5Z" fill="#1414f0"/><path d="M173.3,1516.9L180.8,1530.4L165.8,1530.4Z" fill="#1414f0"/><path d="M172.6,1521.9L180.1,1535.4L165.1,1535.4Z" fill="#1414f0"/><path d="M172.0,1526.8L179.5,1540.3L164.5,1540.3Z" fill="#1414f0"/><path d="M171.3,1531.8L178.8,1545.3L163.8,1545.3Z" fill="#1414f0"/><path d="M170.7,1536.7L178.2,1550.2L163.2,1550.2Z" fill="#1414f0"/><path d="M170.0,1541.7L177.5,1555.2L162.5,1555.2Z" fill="#1414f0"/><path d="M169.4,1546.7L176.9,1560.2L161.9,1560.2Z" fill="#1414f0"/><path d="M168.7,1551.6L176.2,1565.1L161.2,1565.1Z" fill="#1414f0"/><path d="M168.0,1556.6L175.5,1570.1L160.5,1570.1Z" fill="#1414f0"/><path d="M167.3,1561.5L174.8,1575.0L159.8,1575.0Z" fill="#1414f0"/><path d="M165.7,1566.2L173.2,1579.7L158.2,1579.7Z" fill="#1414f0"/><path d="M160.5,1571.1L168.0,1584.6L153.0,1584.6Z" fill="#1414f0"/><path d="M166.0,1571.6L173.5,1585.1L158.5,1585.1Z" fill="#1414f0"/><path d="M172.0,1571.6L179.5,1585.1L164.5,1585.1Z" fill="#1414f0"/><path d="M178.0,1571.6L185.5,1585.1L170.5,1585.1Z" fill="#1414f0"/><path d="M183.0,1571.6L190.5,1585.1L175.5,1585.1Z" fill="#1414f0"/>
<rect x="160.5" y="921.0" width="888.5" height="715.5" fill="none" stroke="#1a1a1a" stroke-width="5.0"/>
<path d="M164.0,1636.5V1620.5M274.6,1636.5V1620.5M385.2,1636.5V1620.5M495.9,1636.5V1620.5M606.5,1636.5V1620.5M717.1,1636.5V1620.5M827.8,1636.5V1620.5M938.4,1636.5V1620.5M1049.0,1636.5V1620.5" stroke="#1a1a1a" stroke-width="4.0"/>
<path d="M219.3,1636.5V1627.5M329.9,1636.5V1627.5M440.6,1636.5V1627.5M551.2,1636.5V1627.5M661.8,1636.5V1627.5M772.4,1636.5V1627.5M883.1,1636.5V1627.5M993.7,1636.5V1627.5" stroke="#1a1a1a" stroke-width="4.0"/>
<path d="M160.5,1576.0H176.5M160.5,1433.5H176.5M160.5,1291.0H176.5M160.5,1148.5H176.5M160.5,1006.0H176.5" stroke="#1a1a1a" stroke-width="4.0"/>
<path d="M160.5,1504.8H169.5M160.5,1362.2H169.5M160.5,1219.8H169.5M160.5,1077.2H169.5M160.5,934.8H169.5" stroke="#1a1a1a" stroke-width="4.0"/>
<text transform="translate(127.13,1584.32) scale(0.9500,1)" font-size="31.00" font-weight="700" fill="#222">0</text>
<text transform="translate(94.37,1441.82) scale(0.9500,1)" font-size="31.00" font-weight="700" fill="#222">100</text>
<text transform="translate(94.37,1299.32) scale(0.9500,1)" font-size="31.00" font-weight="700" fill="#222">200</text>
<text transform="translate(94.37,1156.82) scale(0.9500,1)" font-size="31.00" font-weight="700" fill="#222">300</text>
<text transform="translate(94.37,1014.32) scale(0.9500,1)" font-size="31.00" font-weight="700" fill="#222">400</text>
<text transform="translate(155.83,1676.00) scale(0.9500,1)" font-size="31.00" font-weight="700" fill="#222">0</text>
<text transform="translate(258.40,1676.00) scale(0.9500,1)" font-size="31.00" font-weight="700" fill="#222">50</text>
<text transform="translate(360.36,1676.00) scale(0.9500,1)" font-size="31.00" font-weight="700" fill="#222">100</text>
<text transform="translate(470.98,1676.00) scale(0.9500,1)" font-size="31.00" font-weight="700" fill="#222">150</text>
<text transform="translate(582.03,1676.00) scale(0.9500,1)" font-size="31.00" font-weight="700" fill="#222">200</text>
<text transform="translate(692.65,1676.00) scale(0.9500,1)" font-size="31.00" font-weight="700" fill="#222">250</text>
<text transform="translate(803.45,1676.00) scale(0.9500,1)" font-size="31.00" font-weight="700" fill="#222">300</text>
<text transform="translate(914.07,1676.00) scale(0.9500,1)" font-size="31.00" font-weight="700" fill="#222">350</text>
<text transform="translate(1024.81,1676.00) scale(0.9500,1)" font-size="31.00" font-weight="700" fill="#222">400</text>
<text transform="translate(543.00,1740.50) scale(0.7435,1)" font-size="45.06" font-weight="700" fill="#1a1a1a">Z</text>
<text transform="translate(565.00,1740.00)" font-size="32.00" font-weight="400" fill="#444">'</text>
<text transform="translate(574.50,1741.00) skewX(-13.00)" font-size="47.00" font-weight="400" fill="#333">/</text>
<text transform="translate(597.72,1740.50) scale(0.7436,1)" font-size="44.16" font-weight="700" fill="#1a1a1a">ohm</text>
<text transform="translate(56.50,1357.50) rotate(-90.0) scale(1.7000,1)" font-size="44.00" font-weight="400" fill="#333">-</text>
<text transform="translate(57.50,1335.02) rotate(-90) scale(0.7761,1)" font-size="44.33" font-weight="700" fill="#1a1a1a">Z</text>
<text transform="translate(57.50,1312.50) rotate(-90.0)" font-size="32.00" font-weight="400" fill="#444" letter-spacing="3.00">''</text>
<text transform="translate(57.50,1294.00) rotate(-90.0) skewX(-13.00)" font-size="47.00" font-weight="400" fill="#333">/</text>
<text transform="translate(57.50,1271.89) rotate(-90) scale(0.8316,1)" font-size="42.78" font-weight="700" fill="#1a1a1a">ohm</text>
<text transform="translate(201.52,1010.50) scale(0.8614,1)" font-size="73.78" font-weight="700" fill="#000">c</text>
<path d="M580.1,965.3H669.1" stroke="#101010" stroke-width="4"/>
<path d="M580.1,1022.9H669.1" stroke="#f01010" stroke-width="4"/>
<path d="M580.1,1070.0H669.1" stroke="#1414f0" stroke-width="4"/>
<rect x="616.7" y="958.3" width="14.0" height="14.0" fill="#101010"/>
<circle cx="623.7" cy="1022.9" r="8.0" fill="#f01010"/>
<path d="M623.7,1061.1L631.7,1075.5L615.7,1075.5Z" fill="#1414f0"/>
<text transform="translate(677.72,977.50) scale(1.0918,1)" font-size="33.94" font-weight="700" fill="#1a1a1a">MnO</text>
<text transform="translate(760.24,991.00) scale(1.4503,1)" font-size="15.04" font-weight="700" fill="#1a1a1a">2</text>
<text transform="translate(771.64,977.50) scale(1.1340,1)" font-size="32.71" font-weight="700" fill="#1a1a1a">/CC</text>
<text transform="translate(677.75,1036.90) scale(0.9973,1)" font-size="36.71" font-weight="700" fill="#1a1a1a">PPy/CC</text>
<text transform="translate(677.72,1084.00) scale(1.0476,1)" font-size="35.37" font-weight="700" fill="#1a1a1a">MnO</text>
<text transform="translate(760.24,1097.50) scale(1.4503,1)" font-size="15.04" font-weight="700" fill="#1a1a1a">2</text>
<text transform="translate(771.64,1084.00) scale(1.0865,1)" font-size="34.09" font-weight="700" fill="#1a1a1a">/PPy/CC</text>
<rect x="915.1" y="1210.8" width="7.5" height="7.5" fill="#000"/><rect x="872.1" y="1248.7" width="7.5" height="7.5" fill="#000"/><rect x="838.2" y="1279.7" width="7.5" height="7.5" fill="#000"/><rect x="809.3" y="1307.1" width="7.5" height="7.5" fill="#000"/><rect x="784.2" y="1327.1" width="7.5" height="7.5" fill="#000"/><rect x="764.6" y="1346.6" width="7.5" height="7.5" fill="#000"/><rect x="747.0" y="1364.6" width="7.5" height="7.5" fill="#000"/><rect x="729.4" y="1379.8" width="7.5" height="7.5" fill="#000"/><rect x="719.0" y="1393.4" width="7.5" height="7.5" fill="#000"/><rect x="708.6" y="1404.9" width="7.5" height="7.5" fill="#000"/><rect x="700.1" y="1415.5" width="7.5" height="7.5" fill="#000"/><rect x="692.9" y="1423.6" width="7.5" height="7.5" fill="#000"/><rect x="683.8" y="1430.3" width="7.5" height="7.5" fill="#000"/><rect x="674.7" y="1436.3" width="7.5" height="7.5" fill="#000"/><rect x="664.9" y="1442.8" width="7.5" height="7.5" fill="#000"/><rect x="654.5" y="1447.9" width="7.5" height="7.5" fill="#000"/><rect x="650.8" y="1449.5" width="7.5" height="7.5" fill="#000"/><rect x="647.1" y="1451.1" width="7.5" height="7.5" fill="#000"/><rect x="643.4" y="1452.7" width="7.5" height="7.5" fill="#000"/><rect x="639.7" y="1454.4" width="7.5" height="7.5" fill="#000"/><rect x="636.0" y="1456.0" width="7.5" height="7.5" fill="#000"/><rect x="629.0" y="1458.8" width="7.5" height="7.5" fill="#000"/><rect x="625.6" y="1459.9" width="7.5" height="7.5" fill="#000"/><rect x="622.2" y="1461.1" width="7.5" height="7.5" fill="#000"/><rect x="618.9" y="1462.2" width="7.5" height="7.5" fill="#000"/><rect x="615.5" y="1463.4" width="7.5" height="7.5" fill="#000"/><rect x="608.8" y="1465.3" width="7.5" height="7.5" fill="#000"/><rect x="605.4" y="1466.2" width="7.5" height="7.5" fill="#000"/><rect x="602.0" y="1467.0" width="7.5" height="7.5" fill="#000"/><rect x="598.7" y="1467.9" width="7.5" height="7.5" fill="#000"/><rect x="595.3" y="1468.7" width="7.5" height="7.5" fill="#000"/><rect x="588.6" y="1470.0" width="7.5" height="7.5" fill="#000"/><rect x="585.2" y="1470.4" width="7.5" height="7.5" fill="#000"/><rect x="581.8" y="1470.9" width="7.5" height="7.5" fill="#000"/><rect x="578.5" y="1471.3" width="7.5" height="7.5" fill="#000"/><rect x="575.1" y="1471.8" width="7.5" height="7.5" fill="#000"/><rect x="569.2" y="1472.8" width="7.5" height="7.5" fill="#000"/><rect x="566.7" y="1473.4" width="7.5" height="7.5" fill="#000"/><rect x="564.2" y="1474.0" width="7.5" height="7.5" fill="#000"/><rect x="561.8" y="1474.6" width="7.5" height="7.5" fill="#000"/><rect x="559.3" y="1475.2" width="7.5" height="7.5" fill="#000"/><rect x="556.8" y="1475.8" width="7.5" height="7.5" fill="#000"/>
<circle cx="698.0" cy="1195.1" r="4.2" fill="#f01010"/><circle cx="682.4" cy="1237.7" r="4.2" fill="#f01010"/><circle cx="672.6" cy="1273.6" r="4.2" fill="#f01010"/><circle cx="662.2" cy="1302.1" r="4.2" fill="#f01010"/><circle cx="655.6" cy="1323.2" r="4.2" fill="#f01010"/><circle cx="649.1" cy="1344.5" r="4.2" fill="#f01010"/><circle cx="643.3" cy="1364.3" r="4.2" fill="#f01010"/><circle cx="638.7" cy="1382.3" r="4.2" fill="#f01010"/><circle cx="630.9" cy="1399.6" r="4.2" fill="#f01010"/><circle cx="619.8" cy="1414.8" r="4.2" fill="#f01010"/><circle cx="608.7" cy="1427.9" r="4.2" fill="#f01010"/><circle cx="607.4" cy="1429.5" r="4.2" fill="#f01010"/><circle cx="606.1" cy="1431.0" r="4.2" fill="#f01010"/><circle cx="604.8" cy="1432.5" r="4.2" fill="#f01010"/><circle cx="603.5" cy="1434.0" r="4.2" fill="#f01010"/><circle cx="602.2" cy="1435.5" r="4.2" fill="#f01010"/><circle cx="598.4" cy="1439.8" r="4.2" fill="#f01010"/><circle cx="595.9" cy="1442.5" r="4.2" fill="#f01010"/><circle cx="593.4" cy="1445.2" r="4.2" fill="#f01010"/><circle cx="590.9" cy="1447.9" r="4.2" fill="#f01010"/><circle cx="588.4" cy="1450.6" r="4.2" fill="#f01010"/><circle cx="583.3" cy="1456.0" r="4.2" fill="#f01010"/><circle cx="580.7" cy="1458.7" r="4.2" fill="#f01010"/><circle cx="578.1" cy="1461.4" r="4.2" fill="#f01010"/><circle cx="575.5" cy="1464.1" r="4.2" fill="#f01010"/><circle cx="572.9" cy="1466.8" r="4.2" fill="#f01010"/><circle cx="568.2" cy="1471.7" r="4.2" fill="#f01010"/><circle cx="566.2" cy="1474.0" r="4.2" fill="#f01010"/><circle cx="564.1" cy="1476.3" r="4.2" fill="#f01010"/><circle cx="562.0" cy="1478.5" r="4.2" fill="#f01010"/><circle cx="560.0" cy="1480.8" r="4.2" fill="#f01010"/><circle cx="557.5" cy="1483.7" r="4.2" fill="#f01010"/><circle cx="557.0" cy="1484.4" r="4.2" fill="#f01010"/><circle cx="556.6" cy="1485.1" r="4.2" fill="#f01010"/><circle cx="556.2" cy="1485.7" r="4.2" fill="#f01010"/><circle cx="555.7" cy="1486.4" r="4.2" fill="#f01010"/><circle cx="555.3" cy="1487.1" r="4.2" fill="#f01010"/>
<path d="M582.0,1225.7L586.3,1233.3L577.8,1233.3Z" fill="#1414f0"/><path d="M572.9,1286.0L577.1,1293.7L568.6,1293.7Z" fill="#1414f0"/><path d="M565.7,1313.2L570.0,1320.8L561.5,1320.8Z" fill="#1414f0"/><path d="M560.5,1339.7L564.8,1347.4L556.3,1347.4Z" fill="#1414f0"/><path d="M557.2,1359.6L561.5,1367.2L553.0,1367.2Z" fill="#1414f0"/><path d="M555.9,1375.6L560.2,1383.2L551.7,1383.2Z" fill="#1414f0"/><path d="M554.6,1389.4L558.9,1397.0L550.4,1397.0Z" fill="#1414f0"/><path d="M552.0,1398.3L556.3,1405.9L547.8,1405.9Z" fill="#1414f0"/><path d="M549.4,1405.0L553.7,1412.6L545.2,1412.6Z" fill="#1414f0"/><path d="M548.1,1412.5L552.4,1420.1L543.9,1420.1Z" fill="#1414f0"/><path d="M547.5,1420.1L551.7,1427.8L543.2,1427.8Z" fill="#1414f0"/><path d="M545.5,1428.7L549.8,1436.3L541.3,1436.3Z" fill="#1414f0"/><path d="M544.2,1437.4L548.5,1445.0L540.0,1445.0Z" fill="#1414f0"/><path d="M541.6,1445.9L545.9,1453.5L537.4,1453.5Z" fill="#1414f0"/><path d="M538.4,1454.6L542.6,1462.2L534.1,1462.2Z" fill="#1414f0"/><path d="M534.4,1460.7L538.7,1468.3L530.2,1468.3Z" fill="#1414f0"/><path d="M529.9,1466.7L534.1,1474.4L525.6,1474.4Z" fill="#1414f0"/><path d="M526.6,1470.8L530.9,1478.4L522.4,1478.4Z" fill="#1414f0"/><path d="M523.4,1474.9L527.6,1482.5L519.1,1482.5Z" fill="#1414f0"/>
<rect x="517.5" y="1155.9" width="456.1" height="364.3" fill="none" stroke="#1a1a1a" stroke-width="3.8"/>
<path d="M517.5,1520.2V1513.2M582.7,1520.2V1513.2M647.8,1520.2V1513.2M713.0,1520.2V1513.2M778.1,1520.2V1513.2M843.3,1520.2V1513.2M908.5,1520.2V1513.2M973.6,1520.2V1513.2M550.1,1520.2V1516.2M615.2,1520.2V1516.2M680.4,1520.2V1516.2M745.6,1520.2V1516.2M810.7,1520.2V1516.2M875.9,1520.2V1516.2M941.0,1520.2V1516.2M517.5,1480.0H524.5M517.5,1399.0H524.5M517.5,1317.9H524.5M517.5,1236.9H524.5M517.5,1155.8H524.5M517.5,1520.5H521.5M517.5,1439.5H521.5M517.5,1358.4H521.5M517.5,1277.4H521.5M517.5,1196.4H521.5" stroke="#1a1a1a" stroke-width="3"/>
<text transform="translate(494.31,1490.12) scale(0.9500,1)" font-size="29.00" font-weight="700" fill="#222">0</text>
<text transform="translate(493.33,1409.08) scale(0.9500,1)" font-size="29.00" font-weight="700" fill="#222">4</text>
<text transform="translate(494.03,1328.04) scale(0.9500,1)" font-size="29.00" font-weight="700" fill="#222">8</text>
<text transform="translate(478.96,1247.00) scale(0.9500,1)" font-size="29.00" font-weight="700" fill="#222">12</text>
<text transform="translate(478.85,1165.96) scale(0.9500,1)" font-size="29.00" font-weight="700" fill="#222">16</text>
<text transform="translate(509.91,1557.00) scale(0.9500,1)" font-size="29.00" font-weight="700" fill="#222">2</text>
<text transform="translate(575.18,1557.00) scale(0.9500,1)" font-size="29.00" font-weight="700" fill="#222">3</text>
<text transform="translate(640.02,1557.00) scale(0.9500,1)" font-size="29.00" font-weight="700" fill="#222">4</text>
<text transform="translate(705.28,1557.00) scale(0.9500,1)" font-size="29.00" font-weight="700" fill="#222">5</text>
<text transform="translate(770.47,1557.00) scale(0.9500,1)" font-size="29.00" font-weight="700" fill="#222">6</text>
<text transform="translate(835.65,1557.00) scale(0.9500,1)" font-size="29.00" font-weight="700" fill="#222">7</text>
<text transform="translate(900.79,1557.00) scale(0.9500,1)" font-size="29.00" font-weight="700" fill="#222">8</text>
<text transform="translate(965.99,1557.00) scale(0.9500,1)" font-size="29.00" font-weight="700" fill="#222">9</text>
<text transform="translate(699.67,1593.00) scale(1.0609,1)" font-size="26.22" font-weight="700" fill="#333">Z'/ohm</text>
<text transform="translate(470.00,1407.55) rotate(-90) scale(0.9974,1)" font-size="26.91" font-weight="700" fill="#333">-Z''/ohm</text>
<rect x="758.8" y="1417.2" width="8.0" height="8.0" fill="#000"/>
<circle cx="762.8" cy="1459.9" r="4.5" fill="#f01010"/>
<path d="M762.8,1487.9L767.3,1496.0L758.3,1496.0Z" fill="#1414f0"/>
<text transform="translate(797.54,1430.50) scale(0.8217,1)" font-size="26.50" font-weight="700" fill="#333">MnO</text>
<text transform="translate(845.57,1440.00) scale(1.0877,1)" font-size="11.46" font-weight="700" fill="#333">2</text>
<text transform="translate(852.20,1430.50) scale(1.2087,1)" font-size="25.53" font-weight="700" fill="#333">/CC</text>
<text transform="translate(797.33,1468.50) scale(1.0853,1)" font-size="23.05" font-weight="700" fill="#333">PPy/CC</text>
<text transform="translate(797.54,1503.00) scale(0.8446,1)" font-size="25.78" font-weight="700" fill="#333">MnO</text>
<text transform="translate(845.57,1512.50) scale(1.0877,1)" font-size="11.46" font-weight="700" fill="#333">2</text>
<text transform="translate(852.23,1503.00) scale(1.1127,1)" font-size="24.84" font-weight="700" fill="#333">/PPy/CC</text>
<ellipse cx="1271.3" cy="1538.5" rx="14.0" ry="13.5" fill="url(#gK)"/><ellipse cx="1308.1" cy="1541.8" rx="14.0" ry="13.5" fill="url(#gK)"/><ellipse cx="1345.0" cy="1541.8" rx="14.0" ry="13.5" fill="url(#gK)"/><ellipse cx="1381.8" cy="1542.9" rx="14.0" ry="13.5" fill="url(#gK)"/><ellipse cx="1418.7" cy="1544.0" rx="14.0" ry="13.5" fill="url(#gK)"/><ellipse cx="1455.5" cy="1546.2" rx="14.0" ry="13.5" fill="url(#gK)"/><ellipse cx="1492.3" cy="1546.2" rx="14.0" ry="13.5" fill="url(#gK)"/><ellipse cx="1529.2" cy="1547.3" rx="14.0" ry="13.5" fill="url(#gK)"/><ellipse cx="1566.0" cy="1548.4" rx="14.0" ry="13.5" fill="url(#gK)"/><ellipse cx="1602.9" cy="1549.5" rx="14.0" ry="13.5" fill="url(#gK)"/><ellipse cx="1639.7" cy="1550.6" rx="14.0" ry="13.5" fill="url(#gK)"/><ellipse cx="1676.5" cy="1551.7" rx="14.0" ry="13.5" fill="url(#gK)"/><ellipse cx="1713.4" cy="1551.7" rx="14.0" ry="13.5" fill="url(#gK)"/><ellipse cx="1750.2" cy="1554.0" rx="14.0" ry="13.5" fill="url(#gK)"/><ellipse cx="1787.1" cy="1554.0" rx="14.0" ry="13.5" fill="url(#gK)"/><ellipse cx="1823.9" cy="1555.1" rx="14.0" ry="13.5" fill="url(#gK)"/><ellipse cx="1860.7" cy="1556.2" rx="14.0" ry="13.5" fill="url(#gK)"/><ellipse cx="1897.6" cy="1557.3" rx="14.0" ry="13.5" fill="url(#gK)"/><ellipse cx="1934.4" cy="1558.4" rx="14.0" ry="13.5" fill="url(#gK)"/><ellipse cx="1971.3" cy="1559.5" rx="14.0" ry="13.5" fill="url(#gK)"/><ellipse cx="2008.1" cy="1560.6" rx="14.0" ry="13.5" fill="url(#gK)"/><ellipse cx="2044.9" cy="1561.7" rx="14.0" ry="13.5" fill="url(#gK)"/><ellipse cx="2081.8" cy="1561.7" rx="14.0" ry="13.5" fill="url(#gK)"/><ellipse cx="2118.6" cy="1562.8" rx="14.0" ry="13.5" fill="url(#gK)"/><ellipse cx="2155.5" cy="1563.9" rx="14.0" ry="13.5" fill="url(#gK)"/><ellipse cx="2192.3" cy="1563.9" rx="14.0" ry="13.5" fill="url(#gK)"/>
<ellipse cx="1271.3" cy="1388.5" rx="14.0" ry="13.5" fill="url(#gR)"/><ellipse cx="1308.1" cy="1390.7" rx="14.0" ry="13.5" fill="url(#gR)"/><ellipse cx="1345.0" cy="1394.0" rx="14.0" ry="13.5" fill="url(#gR)"/><ellipse cx="1381.8" cy="1396.2" rx="14.0" ry="13.5" fill="url(#gR)"/><ellipse cx="1418.7" cy="1398.4" rx="14.0" ry="13.5" fill="url(#gR)"/><ellipse cx="1455.5" cy="1401.7" rx="14.0" ry="13.5" fill="url(#gR)"/><ellipse cx="1492.3" cy="1403.9" rx="14.0" ry="13.5" fill="url(#gR)"/><ellipse cx="1529.2" cy="1406.2" rx="14.0" ry="13.5" fill="url(#gR)"/><ellipse cx="1566.0" cy="1409.5" rx="14.0" ry="13.5" fill="url(#gR)"/><ellipse cx="1602.9" cy="1412.8" rx="14.0" ry="13.5" fill="url(#gR)"/><ellipse cx="1639.7" cy="1416.1" rx="14.0" ry="13.5" fill="url(#gR)"/><ellipse cx="1676.5" cy="1418.3" rx="14.0" ry="13.5" fill="url(#gR)"/><ellipse cx="1713.4" cy="1420.5" rx="14.0" ry="13.5" fill="url(#gR)"/><ellipse cx="1750.2" cy="1424.1" rx="14.0" ry="13.5" fill="url(#gR)"/><ellipse cx="1787.1" cy="1427.4" rx="14.0" ry="13.5" fill="url(#gR)"/><ellipse cx="1823.9" cy="1430.7" rx="14.0" ry="13.5" fill="url(#gR)"/><ellipse cx="1860.7" cy="1434.0" rx="14.0" ry="13.5" fill="url(#gR)"/><ellipse cx="1897.6" cy="1438.4" rx="14.0" ry="13.5" fill="url(#gR)"/><ellipse cx="1934.4" cy="1440.6" rx="14.0" ry="13.5" fill="url(#gR)"/><ellipse cx="1971.3" cy="1445.0" rx="14.0" ry="13.5" fill="url(#gR)"/><ellipse cx="2008.1" cy="1448.4" rx="14.0" ry="13.5" fill="url(#gR)"/><ellipse cx="2044.9" cy="1451.7" rx="14.0" ry="13.5" fill="url(#gR)"/><ellipse cx="2081.8" cy="1452.8" rx="14.0" ry="13.5" fill="url(#gR)"/><ellipse cx="2118.6" cy="1453.9" rx="14.0" ry="13.5" fill="url(#gR)"/><ellipse cx="2155.5" cy="1455.0" rx="14.0" ry="13.5" fill="url(#gR)"/><ellipse cx="2192.3" cy="1455.0" rx="14.0" ry="13.5" fill="url(#gR)"/>
<ellipse cx="1271.3" cy="1023.1" rx="14.0" ry="13.5" fill="url(#gB)"/><ellipse cx="1308.1" cy="1008.7" rx="14.0" ry="13.5" fill="url(#gB)"/><ellipse cx="1345.0" cy="1028.6" rx="14.0" ry="13.5" fill="url(#gB)"/><ellipse cx="1381.8" cy="1033.0" rx="14.0" ry="13.5" fill="url(#gB)"/><ellipse cx="1418.7" cy="1035.2" rx="14.0" ry="13.5" fill="url(#gB)"/><ellipse cx="1455.5" cy="1037.4" rx="14.0" ry="13.5" fill="url(#gB)"/><ellipse cx="1492.3" cy="1039.6" rx="14.0" ry="13.5" fill="url(#gB)"/><ellipse cx="1529.2" cy="1042.9" rx="14.0" ry="13.5" fill="url(#gB)"/><ellipse cx="1566.0" cy="1044.0" rx="14.0" ry="13.5" fill="url(#gB)"/><ellipse cx="1602.9" cy="1049.5" rx="14.0" ry="13.5" fill="url(#gB)"/><ellipse cx="1639.7" cy="1052.8" rx="14.0" ry="13.5" fill="url(#gB)"/><ellipse cx="1676.5" cy="1053.9" rx="14.0" ry="13.5" fill="url(#gB)"/><ellipse cx="1713.4" cy="1057.3" rx="14.0" ry="13.5" fill="url(#gB)"/><ellipse cx="1750.2" cy="1059.6" rx="14.0" ry="13.5" fill="url(#gB)"/><ellipse cx="1787.1" cy="1061.8" rx="14.0" ry="13.5" fill="url(#gB)"/><ellipse cx="1823.9" cy="1062.9" rx="14.0" ry="13.5" fill="url(#gB)"/><ellipse cx="1860.7" cy="1065.1" rx="14.0" ry="13.5" fill="url(#gB)"/><ellipse cx="1897.6" cy="1069.5" rx="14.0" ry="13.5" fill="url(#gB)"/><ellipse cx="1934.4" cy="1072.8" rx="14.0" ry="13.5" fill="url(#gB)"/><ellipse cx="1971.3" cy="1073.9" rx="14.0" ry="13.5" fill="url(#gB)"/><ellipse cx="2008.1" cy="1073.9" rx="14.0" ry="13.5" fill="url(#gB)"/><ellipse cx="2044.9" cy="1073.9" rx="14.0" ry="13.5" fill="url(#gB)"/><ellipse cx="2081.8" cy="1073.9" rx="14.0" ry="13.5" fill="url(#gB)"/><ellipse cx="2118.6" cy="1073.9" rx="14.0" ry="13.5" fill="url(#gB)"/><ellipse cx="2155.5" cy="1075.0" rx="14.0" ry="13.5" fill="url(#gB)"/><ellipse cx="2192.3" cy="1075.0" rx="14.0" ry="13.5" fill="url(#gB)"/>
<rect x="1254.0" y="920.7" width="956.0" height="702.6" fill="none" stroke="#1a1a1a" stroke-width="5.0"/>
<path d="M1271.3,1623.3V1606.3M1455.5,1623.3V1606.3M1639.7,1623.3V1606.3M1823.9,1623.3V1606.3M2008.1,1623.3V1606.3M2192.3,1623.3V1606.3" stroke="#1a1a1a" stroke-width="4.0"/>
<path d="M1363.4,1623.3V1614.3M1547.6,1623.3V1614.3M1731.8,1623.3V1614.3M1916.0,1623.3V1614.3M2100.2,1623.3V1614.3" stroke="#1a1a1a" stroke-width="4.0"/>
<path d="M1254.0,1613.0H1271.0M1254.0,1431.5H1271.0M1254.0,1250.0H1271.0M1254.0,1068.5H1271.0" stroke="#1a1a1a" stroke-width="4.0"/>
<path d="M1254.0,1522.2H1263.0M1254.0,1340.8H1263.0M1254.0,1159.2H1263.0M1254.0,977.8H1263.0" stroke="#1a1a1a" stroke-width="4.0"/>
<text transform="translate(1211.90,1622.21) scale(1.0000,1)" font-size="35.00" font-weight="400" fill="#1a1a2a" letter-spacing="4.20">0</text>
<text transform="translate(1164.57,1440.71) scale(1.0000,1)" font-size="35.00" font-weight="400" fill="#1a1a2a" letter-spacing="4.20">100</text>
<text transform="translate(1164.57,1259.21) scale(1.0000,1)" font-size="35.00" font-weight="400" fill="#1a1a2a" letter-spacing="4.20">200</text>
<text transform="translate(1164.57,1077.71) scale(1.0000,1)" font-size="35.00" font-weight="400" fill="#1a1a2a" letter-spacing="4.20">300</text>
<text transform="translate(1261.01,1673.00) scale(1.0000,1)" font-size="37.00" font-weight="400" fill="#1a1a2a" letter-spacing="3.70">0</text>
<text transform="translate(1408.11,1673.00) scale(1.0000,1)" font-size="37.00" font-weight="400" fill="#1a1a2a" letter-spacing="3.70">1000</text>
<text transform="translate(1592.79,1673.00) scale(1.0000,1)" font-size="37.00" font-weight="400" fill="#1a1a2a" letter-spacing="3.70">2000</text>
<text transform="translate(1777.21,1673.00) scale(1.0000,1)" font-size="37.00" font-weight="400" fill="#1a1a2a" letter-spacing="3.70">3000</text>
<text transform="translate(1961.69,1673.00) scale(1.0000,1)" font-size="37.00" font-weight="400" fill="#1a1a2a" letter-spacing="3.70">4000</text>
<text transform="translate(2145.58,1673.00) scale(1.0000,1)" font-size="37.00" font-weight="400" fill="#1a1a2a" letter-spacing="3.70">5000</text>
<text transform="translate(1527.45,1736.00) scale(1.0000,1)" font-size="50.00" font-weight="700" fill="#111" letter-spacing="3.83">Cycle</text>
<text transform="translate(1691.70,1736.00) scale(1.0000,1)" font-size="50.00" font-weight="700" fill="#111" letter-spacing="1.43">num</text>
<text transform="translate(1813.20,1736.00) scale(1.0000,1)" font-size="50.00" font-weight="700" fill="#111" letter-spacing="4.37">ber</text>
<text transform="translate(1152.50,1582.52) rotate(-90) scale(0.8400,1)" font-size="49.00" font-weight="700" fill="#111" letter-spacing="2.52">Areal capacitance/(m</text>
<text transform="translate(1152.50,1125.45) rotate(-90) scale(0.9000,1)" font-size="49.00" font-weight="700" fill="#111" letter-spacing="3.61">F/cm</text>
<text transform="translate(1131.00,1013.26) rotate(-90) scale(1.0299,1)" font-size="49.41" font-weight="700" fill="#111">2</text>
<text transform="translate(1161.00,984.53) rotate(-90) scale(0.6508,1)" font-size="49.00" font-weight="700" fill="#111">)</text>
<text transform="translate(1291.00,969.70) scale(0.9383,1)" font-size="52.03" font-weight="700" fill="#000">d</text>
<ellipse cx="1550.3" cy="1125.4" rx="14.0" ry="13.5" fill="url(#gK)"/>
<ellipse cx="1550.3" cy="1192.1" rx="14.0" ry="13.5" fill="url(#gR)"/>
<ellipse cx="1550.3" cy="1275.9" rx="14.0" ry="13.5" fill="url(#gB)"/>
<text transform="translate(1596.36,1139.50) scale(1.0000,1)" font-size="47.00" font-weight="700" fill="#111" letter-spacing="3.63">PPy/CC</text>
<text transform="translate(1596.36,1203.20) scale(1.0000,1)" font-size="47.00" font-weight="700" fill="#111" letter-spacing="6.10">MnO</text>
<text transform="translate(1716.60,1223.00) scale(1.0359,1)" font-size="25.06" font-weight="700" fill="#111">2</text>
<text transform="translate(1734.04,1203.20) scale(1.0000,1)" font-size="47.00" font-weight="700" fill="#111" letter-spacing="1.90">/CC</text>
<text transform="translate(1596.36,1288.00) scale(1.0000,1)" font-size="47.00" font-weight="700" fill="#111" letter-spacing="4.38">PPy/MnO</text>
<text transform="translate(1831.53,1308.00) scale(1.1188,1)" font-size="25.06" font-weight="700" fill="#111">2</text>
<text transform="translate(1849.04,1288.00) scale(1.0000,1)" font-size="47.00" font-weight="700" fill="#111" letter-spacing="4.65">/CC</text>
</svg>
</body></html>
